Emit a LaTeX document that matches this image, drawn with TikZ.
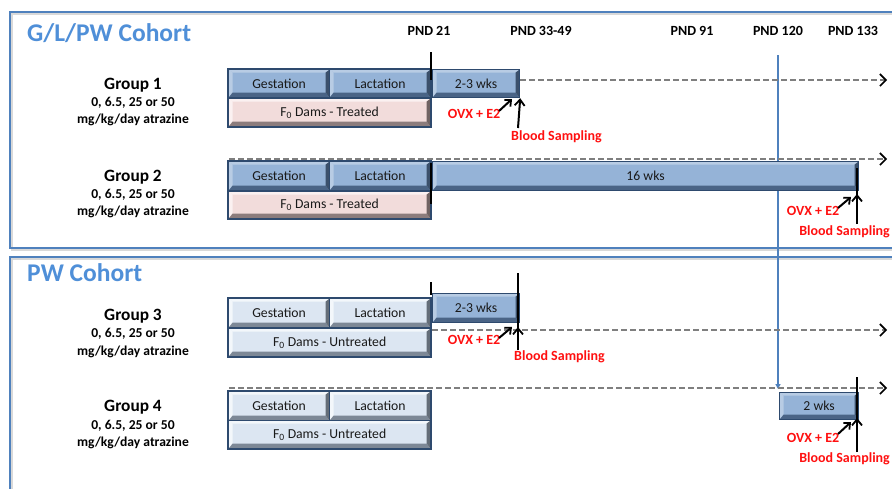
\documentclass[tikz,border=0pt]{standalone}
\usepackage{fontspec}
\setmainfont{Carlito}
\usetikzlibrary{arrows.meta,calc}
\definecolor{titleblue}{HTML}{4F8FD8}
\definecolor{panelblue}{HTML}{4F81BD}
\definecolor{boxblue}{HTML}{95B3D7}
\definecolor{boxblueL}{HTML}{B8CCE4}
\definecolor{boxblueD}{HTML}{4A6486}
\definecolor{frame}{HTML}{2E4A6E}
\definecolor{pinkf}{HTML}{F2DCDB}
\definecolor{pinkL}{HTML}{FBF1F1}
\definecolor{pinkD}{HTML}{8C7C7C}
\definecolor{lightf}{HTML}{DCE6F2}
\definecolor{lightL}{HTML}{F3F7FB}
\definecolor{lightD}{HTML}{7D8896}
\definecolor{dashgray}{HTML}{7F7F7F}
\definecolor{redtxt}{HTML}{FF1010}
\tikzset{
  bev/.style n args={3}{draw=frame, line width=1.2pt, fill=#1, inner sep=0pt,
    anchor=north west, font=\fontsize{13.7}{15}\selectfont, text=black!90,
    path picture={
      \fill[#2] (path picture bounding box.north west) -- (path picture bounding box.north east)
        -- ([xshift=-4pt,yshift=-3pt]path picture bounding box.north east)
        -- ([xshift=4pt,yshift=-3pt]path picture bounding box.north west) -- cycle;
      \fill[#2] (path picture bounding box.north west) -- ([xshift=4pt,yshift=-3pt]path picture bounding box.north west)
        -- ([xshift=4pt,yshift=5pt]path picture bounding box.south west) -- (path picture bounding box.south west) -- cycle;
      \fill[#3] (path picture bounding box.south west) -- (path picture bounding box.south east)
        -- ([xshift=-4pt,yshift=5pt]path picture bounding box.south east)
        -- ([xshift=4pt,yshift=5pt]path picture bounding box.south west) -- cycle;
      \fill[#3!80!black] (path picture bounding box.north east) -- (path picture bounding box.south east)
        -- ([xshift=-4pt,yshift=5pt]path picture bounding box.south east)
        -- ([xshift=-4pt,yshift=-3pt]path picture bounding box.north east) -- cycle;
    }},
  bluebox/.style={bev={boxblue}{boxblueL}{boxblueD}},
  pinkbox/.style={bev={pinkf}{pinkL}{pinkD}},
  lightbox/.style={bev={lightf}{lightL}{lightD}},
  groupframe/.style={draw=frame, line width=2pt},
  panel/.style={draw=panelblue, line width=1.6pt},
  shadowline/.style={draw=black!15, line width=1.6pt},
  cohort/.style={anchor=west, text=titleblue, font=\fontsize{25.5}{30}\selectfont\bfseries, inner sep=0pt},
  pnd/.style={font=\fontsize{14}{16}\selectfont\bfseries, inner sep=0pt},
  grp/.style={font=\fontsize{17.3}{19}\selectfont\bfseries, inner sep=0pt},
  sub/.style={font=\fontsize{13.6}{15}\selectfont\bfseries, inner sep=0pt},
  redlab/.style={text=redtxt, font=\fontsize{14}{16}\selectfont\bfseries, inner sep=0pt},
  dashline/.style={draw=dashgray, line width=2pt, dash pattern=on 6pt off 3pt,
    -{Straight Barb[color=black,length=6pt,width=12pt,line width=1.6pt]}},
  tickline/.style={draw=black, line width=1.3pt},
  ovx/.style={draw=black, line width=2pt, -{Straight Barb[length=5pt,width=9pt,line width=1.8pt]}},
  bsarrow/.style={draw=black, line width=2pt, -{Straight Barb[length=6pt,width=10pt,line width=1.8pt]}},
  pnd120/.style={draw=panelblue, line width=1.4pt, -{Triangle[length=5pt,width=5pt]}},
}
\begin{document}
\begin{tikzpicture}[x=1pt,y=-1pt]
\useasboundingbox (0,0) rectangle (892,488);
\clip (0,0) rectangle (892,488);
\fill[white] (0,0) rectangle (892,488);

% panels
\draw[shadowline] (12,14) rectangle (910,250);
\draw[shadowline] (12,259) rectangle (910,510);
\draw[panel] (10,12) rectangle (910,248);
\draw[panel] (10,257) rectangle (910,510);

\node[cohort] (t1) at (27,33) {G/L/PW Cohort};
\node[cohort] (t2) at (27,273) {PW Cohort};

% PND labels
\node[pnd] (p21) at (429,31) {PND 21};
\node[pnd] (p33) at (541,31) {PND 33-49};
\node[pnd] (p91) at (692,31) {PND 91};
\node[pnd] (p120) at (778,31) {PND 120};
\node[pnd] (p133) at (853,31) {PND 133};

% PND 120 line
\coordinate (l120s) at (778,55);
\coordinate (l120e) at (778,389);
\draw[pnd120] (l120s) -- (l120e);

% dashed time lines
\coordinate (d1s) at (520,80);  \coordinate (d1e) at (887,80);
\coordinate (d2s) at (229,159); \coordinate (d2e) at (887,159);
\coordinate (d3s) at (432,330); \coordinate (d3e) at (887,330);
\coordinate (d4s) at (229,388); \coordinate (d4e) at (887,388);
\draw[dashline] (d1s) -- (d1e);
\draw[dashline] (d2s) -- (d2e);
\draw[dashline] (d3s) -- (d3e);
\draw[dashline] (d4s) -- (d4e);

% ---------- Group 1
\node[grp] (g1t) at (133,85) {Group 1};
\node[sub] (g1d) at (133,103) {0, 6.5, 25 or 50};
\node[sub] (g1u) at (133,120) {mg/kg/day atrazine};
\node[bluebox, minimum width=101pt, minimum height=28pt] (g1g) at (228,69) {Gestation};
\node[bluebox, minimum width=101pt, minimum height=28pt] (g1l) at (329,69) {Lactation};
\node[pinkbox, minimum width=202pt, minimum height=28pt] (g1f) at (228,98) {F\textsubscript{0} Dams - Treated};
\draw[groupframe] (g1g.north west) rectangle (g1f.south east);
\node[bluebox, minimum width=87pt, minimum height=28pt] (g1w) at (432,69) {2-3 wks};
\coordinate (k1a) at (431,52); \coordinate (k1b) at (431,80);
\draw[tickline] (k1a) -- (k1b);
\node[redlab] (o1) at (474,114) {OVX + E2};
\node[redlab, anchor=west] (b1) at (511,137) {Blood Sampling};
\coordinate (o1s) at (499,111); \coordinate (o1e) at (512,99);
\draw[ovx] (o1s) -- (o1e);
\coordinate (bs1) at (518,128);
\draw[bsarrow] (bs1) -- (g1w.south east);

% ---------- Group 2
\node[grp] (g2t) at (133,177) {Group 2};
\node[sub] (g2d) at (133,195) {0, 6.5, 25 or 50};
\node[sub] (g2u) at (133,212) {mg/kg/day atrazine};
\node[bluebox, minimum width=101pt, minimum height=29pt] (g2g) at (228,161) {Gestation};
\node[bluebox, minimum width=101pt, minimum height=29pt] (g2l) at (329,161) {Lactation};
\node[pinkbox, minimum width=202pt, minimum height=27pt] (g2f) at (228,191) {F\textsubscript{0} Dams - Treated};
\draw[groupframe] (g2g.north west) rectangle (g2f.south east);
\node[bluebox, minimum width=426pt, minimum height=29pt] (g2w) at (432,161) {16 wks};
\coordinate (k2a) at (431,163); \coordinate (k2b) at (431,204);
\draw[tickline] (k2a) -- (k2b);
\coordinate (k2c) at (857,168); \coordinate (k2d) at (857,224);
\draw[tickline] (k2c) -- (k2d);
\node[redlab] (o2) at (813,211) {OVX + E2};
\node[redlab, anchor=east] (b2) at (890,232) {Blood Sampling};
\coordinate (o2s) at (838,208); \coordinate (o2e) at (851,197);
\draw[ovx] (o2s) -- (o2e);
\coordinate (bs2) at (857,224); \coordinate (bs2t) at (857,194);
\draw[bsarrow] (bs2) -- (bs2t);

% ---------- Group 3
\node[grp] (g3t) at (133,316) {Group 3};
\node[sub] (g3d) at (133,334) {0, 6.5, 25 or 50};
\node[sub] (g3u) at (133,352) {mg/kg/day atrazine};
\node[lightbox, minimum width=101pt, minimum height=29pt] (g3g) at (228,298) {Gestation};
\node[lightbox, minimum width=101pt, minimum height=29pt] (g3l) at (329,298) {Lactation};
\node[lightbox, minimum width=202pt, minimum height=28pt] (g3f) at (228,328) {F\textsubscript{0} Dams - Untreated};
\draw[groupframe] (g3g.north west) rectangle (g3f.south east);
\node[bluebox, minimum width=87pt, minimum height=29pt] (g3w) at (432,293) {2-3 wks};
\coordinate (k3a) at (431,282); \coordinate (k3b) at (431,295);
\draw[tickline] (k3a) -- (k3b);
\coordinate (k3c) at (518,273); \coordinate (k3d) at (518,350);
\draw[tickline] (k3c) -- (k3d);
\node[redlab] (o3) at (474,340) {OVX + E2};
\node[redlab, anchor=west] (b3) at (514,357) {Blood Sampling};
\coordinate (o3s) at (499,338); \coordinate (o3e) at (512,327);
\draw[ovx] (o3s) -- (o3e);
\coordinate (bs3) at (518,350); \coordinate (bs3t) at (518,327);
\draw[bsarrow] (bs3) -- (bs3t);

% ---------- Group 4
\node[grp] (g4t) at (133,407) {Group 4};
\node[sub] (g4d) at (133,426) {0, 6.5, 25 or 50};
\node[sub] (g4u) at (133,443) {mg/kg/day atrazine};
\node[lightbox, minimum width=101pt, minimum height=29pt] (g4g) at (228,391) {Gestation};
\node[lightbox, minimum width=101pt, minimum height=29pt] (g4l) at (329,391) {Lactation};
\node[lightbox, minimum width=202pt, minimum height=28pt] (g4f) at (228,420) {F\textsubscript{0} Dams - Untreated};
\draw[groupframe] (g4g.north west) rectangle (g4f.south east);
\node[bluebox, minimum width=79pt, minimum height=27pt] (g4w) at (779,392) {2 wks};
\coordinate (k4a) at (857,377); \coordinate (k4b) at (857,452);
\draw[tickline] (k4a) -- (k4b);
\node[redlab] (o4) at (813,438) {OVX + E2};
\node[redlab, anchor=east] (b4) at (890,459) {Blood Sampling};
\coordinate (o4s) at (838,434); \coordinate (o4e) at (851,422);
\draw[ovx] (o4s) -- (o4e);
\coordinate (bs4) at (857,452); \coordinate (bs4t) at (857,418);
\draw[bsarrow] (bs4) -- (bs4t);
\end{tikzpicture}
\end{document}
